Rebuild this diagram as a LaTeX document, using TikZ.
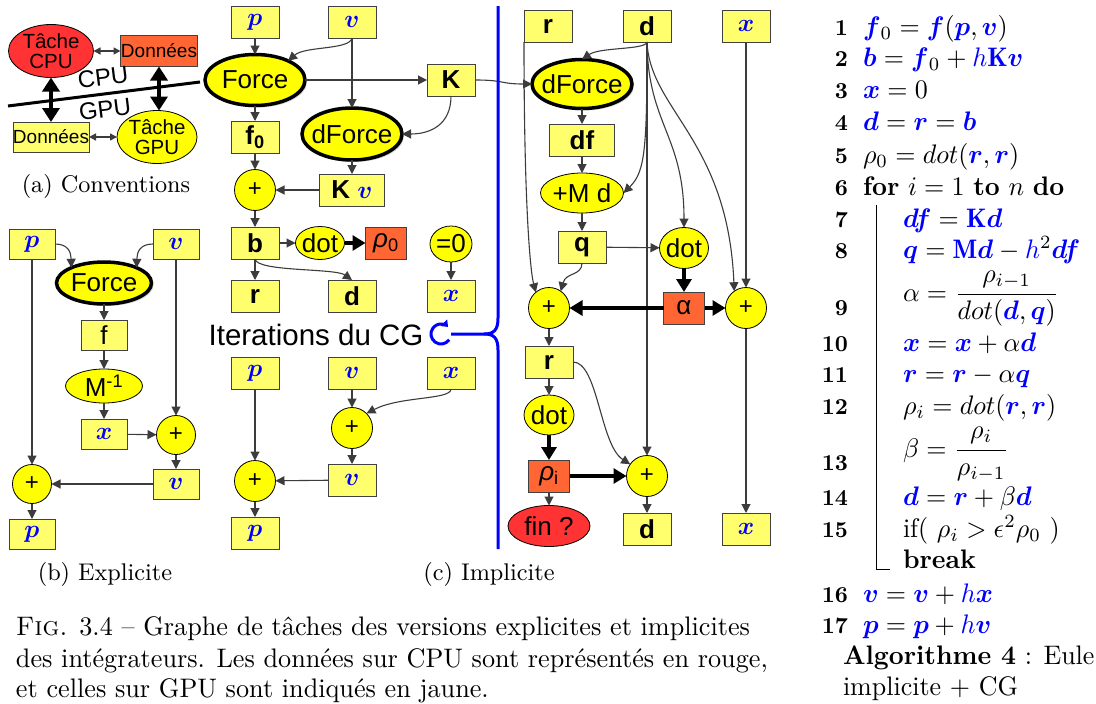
\documentclass[tikz,border=0pt]{standalone}
\usepackage{fix-cm}
\usepackage{graphicx}
\usepackage{amsmath,bm}
\usepackage{fontspec}
\usetikzlibrary{shapes.geometric,arrows.meta,shadows}
\newfontfamily\ars{Liberation Sans}
\definecolor{byel}{RGB}{255,255,110}
\definecolor{cyel}{RGB}{255,255,0}
\definecolor{orng}{RGB}{255,102,51}
\definecolor{redc}{RGB}{255,51,51}
\definecolor{lin}{RGB}{60,60,60}
\newcommand{\vb}[1]{{\color{blue}\bm{#1}}}
\newcommand{\ak}[1]{\scalebox{2.6}[2.68]{\fontsize{10}{12}\selectfont #1}}
\newcommand{\an}[1]{\scalebox{2.6}[2.68]{\fontsize{8.5}{10}\selectfont\bfseries #1}}
\newcommand{\ck}[1]{\scalebox{2.62}[2.68]{\fontsize{10}{12}\selectfont #1}}
\newcommand{\sk}[1]{\scalebox{2.62}[2.68]{\fontsize{9}{11}\selectfont #1}}
\begin{document}
\begin{tikzpicture}[x=1pt,y=1pt,
  every node/.style={inner sep=0pt, outer sep=0pt},
  box/.style={draw=black!75, line width=0.8pt, fill=byel, minimum width=48pt, minimum height=32pt, font=\ars\bfseries\fontsize{26}{26}\selectfont},
  sbox/.style={box, minimum width=46pt, minimum height=30pt},
  mf/.style={font=\fontsize{25}{25}\selectfont},
  obox/.style={box, fill=orng, minimum width=41pt, font=\ars\fontsize{26}{26}\selectfont},
  pl/.style={circle, draw=black, line width=0.8pt, fill=cyel, minimum size=41pt, font=\ars\fontsize{24}{24}\selectfont},
  el/.style={ellipse, draw=black, line width=0.8pt, fill=cyel},
  fel/.style={el, line width=3.5pt, drop shadow={shadow xshift=2pt, shadow yshift=-2pt, fill=black!35}},
  lab/.style={font=\ars\fontsize{26}{26}\selectfont},
  ar/.style={draw=lin, line width=1.1pt, -{Triangle[length=9pt,width=9pt]}},
  tar/.style={draw=black, line width=3.2pt, -{Triangle[length=13pt,width=15pt]}},
  dar/.style={draw=lin, line width=1.5pt, {Triangle[length=7pt,width=7pt]}-{Triangle[length=7pt,width=7pt]}},
  bdar/.style={draw=black, line width=4pt, {Triangle[length=14pt,width=17pt]}-{Triangle[length=14pt,width=17pt]}},
  alg/.style={anchor=base west},
  num/.style={anchor=base east},
  capt/.style={anchor=base west},
]
\fill[white] (0,0) rectangle (1096,-704);
\useasboundingbox (0,0) rectangle (1096,-704);

% ---------- (a) Conventions
\node[ellipse, draw=black, line width=0.8pt, fill=redc, minimum width=85pt, minimum height=53pt,
  label={[font=\ars\fontsize{20.5}{20}\selectfont, align=center]center:Tâche\\CPU}] (tcpu) at (51,-51) {};
\node[draw=black!75, line width=0.8pt, fill=orng, minimum width=77pt, minimum height=31pt, font=\ars\fontsize{19}{19}\selectfont] (dcpu) at (159,-51) {Données};
\node[draw=black!75, line width=0.8pt, fill=byel, minimum width=76pt, minimum height=30pt, font=\ars\fontsize{19}{19}\selectfont] (dgpu) at (51,-137) {Données};
\node[el, minimum width=80pt, minimum height=53pt,
  label={[font=\ars\fontsize{20.5}{20}\selectfont, align=center]center:Tâche\\GPU}] (tgpu) at (157,-137) {};
\coordinate (sepa) at (8,-106);
\coordinate (sepb) at (200,-82);
\draw[line width=3pt] (sepa) -- (sepb);
\node[rotate=7, font=\ars\fontsize{24}{24}\selectfont] (lcpu) at (103,-77) {CPU};
\node[rotate=7, font=\ars\fontsize{24}{24}\selectfont] (lgpu) at (105,-109) {GPU};
\draw[bdar] (tcpu.south) -- (dgpu.north);
\draw[bdar] (dcpu.south) -- (dcpu.south |- tgpu.north);
\draw[dar] (tcpu.east) -- (dcpu.west);
\draw[dar] (dgpu.east) -- (tgpu.west);
\node (capa) at (106,-186) {\sk{(a) Conventions}};

% ---------- (b) Explicite
\node[sbox, mf] (bp1) at (32,-244) {$\vb{p}$};
\node[sbox, mf] (bv1) at (176,-244) {$\vb{v}$};
\node[fel, minimum width=95pt, minimum height=42pt, label={[lab]center:Force}] (bforce) at (104,-283) {};
\node[sbox, font=\ars\fontsize{26}{26}\selectfont] (bf) at (104,-335) {f};
\node[el, minimum width=77pt, minimum height=34pt, label={[lab]center:M\textsuperscript{-1}}] (bm) at (104,-386) {};
\node[sbox, mf] (bx) at (104,-434) {$\vb{x}$};
\node[pl, minimum size=39pt] (bplus1) at (176,-435) {+};
\node[sbox, mf] (bv2) at (176,-484) {$\vb{v}$};
\node[pl, minimum size=39pt] (bplus2) at (32,-484) {+};
\node[sbox, mf] (bp2) at (32,-534) {$\vb{p}$};
\node (capb) at (105,-574) {\sk{(b) Explicite}};
\draw[ar] (bp1.east) .. controls (68,-244) and (71,-252) .. (bforce.155);
\draw[ar] (bv1.west) .. controls (140,-244) and (137,-252) .. (bforce.25);
\draw[ar] (bforce) -- (bf);
\draw[ar] (bf) -- (bm);
\draw[ar] (bm) -- (bx);
\draw[ar] (bx) -- (bplus1);
\draw[ar] (bv1) -- (bplus1);
\draw[ar] (bplus1) -- (bv2);
\draw[ar] (bv2) -- (bplus2);
\draw[ar] (bp1) -- (bplus2);
\draw[ar] (bplus2) -- (bp2);

% ---------- (c) Implicite, left part
\node[box, mf] (cp1) at (255,-22) {$\vb{p}$};
\node[box, mf] (cv1) at (352,-22) {$\vb{v}$};
\node[fel, minimum width=100pt, minimum height=51pt, label={[lab]center:Force}] (cforce) at (255,-80) {};
\node[box] (ck) at (451,-80) {K};
\node[fel, minimum width=100pt, minimum height=52pt, label={[lab]center:dForce}] (cdforce) at (352,-134) {};
\node[box] (cf0) at (255,-137) {f\textsubscript{0}};
\node[pl] (cplus1) at (255,-190) {+};
\node[box, minimum width=65pt] (ckv) at (352,-190) {K {\fontsize{25}{25}\selectfont$\vb{v}$}};
\node[box] (cb) at (255,-243) {b};
\node[el, minimum width=49pt, minimum height=33pt, label={[lab]center:dot}] (cdot) at (320,-243) {};
\node[obox] (crho) at (386,-243) {\textit{ρ}\textsubscript{0}};
\node[el, minimum width=42pt, minimum height=36pt, label={[lab]center:=0}] (czero) at (451,-244) {};
\node[box] (cr) at (255,-296) {r};
\node[box] (cd) at (352,-296) {d};
\node[box, mf] (cx) at (451,-296) {$\vb{x}$};
\node[font=\ars\fontsize{29.5}{30}\selectfont] (iter) at (316,-335) {Iterations du CG};
\coordinate (cg) at (441,-334);
\draw[blue, line width=3pt, -{Triangle[length=6pt,width=9pt]}] ([shift={(-35:10)}]cg) arc[start angle=-35, end angle=-315, radius=10];
\node[box, mf] (cp2) at (255,-373) {$\vb{p}$};
\node[box, mf] (cv2) at (352,-373) {$\vb{v}$};
\node[box, mf] (cx2) at (451,-373) {$\vb{x}$};
\node[pl] (cplus2) at (352,-428) {+};
\node[pl] (cplus3) at (255,-481) {+};
\node[box, mf] (cv3) at (352,-480) {$\vb{v}$};
\node[box, mf] (cp3) at (255,-533) {$\vb{p}$};
\node (capc) at (489,-574) {\sk{(c) Implicite}};

\draw[ar] (cp1) -- (cforce);
\draw[ar] (cv1.south) .. controls (350,-50) and (305,-46) .. (cforce.30);
\draw[ar] (cv1) -- (cdforce);
\draw[ar] (cforce) -- (ck);
\draw[ar] (ck.south) .. controls (451,-125) and (430,-134) .. (cdforce.east);
\draw[ar] (cforce) -- (cf0);
\draw[ar] (cf0) -- (cplus1);
\draw[ar] (cdforce) -- (ckv);
\draw[ar] (ckv) -- (cplus1);
\draw[ar] (cplus1) -- (cb);
\draw[ar] (cb) -- (cdot);
\draw[tar] (cdot) -- (crho);
\draw[ar] (cb) -- (cr);
\draw[ar] (cb.south) .. controls (257,-272) and (335,-268) .. (cd.north);
\draw[ar] (czero) -- (cx);
\draw[ar] (cp2) -- (cplus3);
\draw[ar] (cv2) -- (cplus2);
\draw[ar] (cx2.south) .. controls (451,-400) and (400,-396) .. (cplus2.45);
\draw[ar] (cplus2) -- (cv3);
\draw[ar] (cv3) -- (cplus3);
\draw[ar] (cplus3) -- (cp3);

% ---------- (c) Implicite, right part
\node[box] (rr1) at (548,-26) {r};
\node[box] (rd1) at (647,-26) {d};
\node[box, mf] (rx1) at (746,-26) {$\vb{x}$};
\node[fel, minimum width=100pt, minimum height=49pt, label={[lab]center:dForce}] (rdforce) at (582,-84) {};
\node[box, minimum width=65pt] (rdf) at (582,-140) {df};
\node[el, minimum width=83pt, minimum height=40pt, label={[lab]center:+M d}] (rmd) at (582,-193) {};
\node[box] (rq) at (582,-247) {q};
\node[el, minimum width=49pt, minimum height=41pt, label={[lab]center:dot}] (rdot1) at (684,-248) {};
\node[obox] (ralpha) at (684,-308) {α};
\node[pl] (rplus1) at (549,-308) {+};
\node[pl] (rplus2) at (746,-308) {+};
\node[box] (rr2) at (549,-362) {r};
\node[el, minimum width=50pt, minimum height=40pt, label={[lab]center:dot}] (rdot2) at (549,-415) {};
\node[obox] (rrho) at (549,-476) {\textit{ρ}\textsubscript{i}};
\node[pl] (rplus3) at (647,-476) {+};
\node[ellipse, draw=black, line width=0.8pt, fill=redc, minimum width=82pt, minimum height=41pt, label={[lab]center:fin ?}] (rfin) at (549,-526) {};
\node[box] (rd2) at (647,-529) {d};
\node[box, mf] (rx2) at (746,-529) {$\vb{x}$};

\draw[ar] (ck.east) .. controls (505,-80) and (500,-84) .. (rdforce.west);
\draw[ar] (rd1.south) .. controls (646,-50) and (600,-47) .. (rdforce.north);
\draw[ar] (rdforce) -- (rdf);
\draw[ar] (rdf) -- (rmd);
\draw[ar] (rmd) -- (rq);
\draw[ar] (rd1.south) .. controls (647,-150) and (645,-172) .. (rmd.east);
\draw[ar] (rd1.south) .. controls (648,-125) and (684,-135) .. (rdot1.north);
\draw[ar] (rd1.south) .. controls (650,-110) and (728,-140) .. (rplus2.125);
\draw[ar] (rd1) -- (rplus3);
\draw[ar] (rr1.south west) .. controls (524,-200) and (530,-270) .. (rplus1.130);
\draw[ar] (rq.south) .. controls (582,-276) and (566,-272) .. (rplus1.55);
\draw[ar] (rq) -- (rdot1);
\draw[tar] (rdot1) -- (ralpha);
\draw[tar] (ralpha) -- (rplus1);
\draw[tar] (ralpha) -- (rplus2);
\draw[ar] (rx1) -- (rplus2);
\draw[ar] (rplus1) -- (rr2);
\draw[ar] (rr2) -- (rdot2);
\draw[tar] (rdot2) -- (rrho);
\draw[tar] (rrho) -- (rplus3);
\draw[ar] (rr2.east) .. controls (598,-362) and (600,-445) .. (rplus3.145);
\draw[ar] (rplus3) -- (rd2);
\draw[ar] (rplus2) -- (rx2);
\draw[ar] (rrho) -- (rfin);

% ---------- blue separator with brace
\coordinate (bt) at (498,-6);
\coordinate (bb) at (498,-549);
\coordinate (btip) at (484,-334);
\draw[blue, line width=3pt] (bt) -- (498,-318) .. controls (498,-330) and (494,-334) .. (btip) -- ([xshift=10pt]cg);
\draw[blue, line width=3pt] (btip) .. controls (494,-334) and (498,-338) .. (498,-350) -- (bb);

% ---------- algorithm
\node[num] (n1) at (848,-35) {\an{1}};
\node[alg] (l1) at (863,-35) {\ak{$\vb{f}_0 = \vb{f}(\vb{p},\vb{v})$}};
\node[num] (n2) at (848,-66) {\an{2}};
\node[alg] (l2) at (863,-66) {\ak{$\vb{b} = \vb{f}_0 + {\color{blue}h\mathbf{K}\bm{v}}$}};
\node[num] (n3) at (848,-98) {\an{3}};
\node[alg] (l3) at (863,-98) {\ak{$\vb{x} = 0$}};
\node[num] (n4) at (848,-130) {\an{4}};
\node[alg] (l4) at (863,-130) {\ak{$\vb{d} = \vb{r} = \vb{b}$}};
\node[num] (n5) at (848,-163) {\an{5}};
\node[alg] (l5) at (863,-163) {\ak{$\rho_0 = dot(\vb{r},\vb{r})$}};
\node[num] (n6) at (848,-195) {\an{6}};
\node[alg] (l6) at (863,-195) {\ak{\textbf{for} $i = 1$ \textbf{to} $n$ \textbf{do}}};
\node[num] (n7) at (848,-227) {\an{7}};
\node[alg] (l7) at (903,-227) {\ak{$\vb{df} = {\color{blue}\mathbf{K}\bm{d}}$}};
\node[num] (n8) at (848,-258) {\an{8}};
\node[alg] (l8) at (903,-258) {\ak{$\vb{q} = {\color{blue}\mathbf{M}\bm{d}} - {\color{blue}h}^2\vb{df}$}};
\node[num] (n9) at (848,-315) {\an{9}};
\node[alg] (l9) at (903,-301) {\ak{$\alpha = \dfrac{\rho_{i-1}}{dot(\vb{d},\vb{q})}$}};
\node[num] (n10) at (848,-351) {\an{10}};
\node[alg] (l10) at (903,-351) {\ak{$\vb{x} = \vb{x} + \alpha\vb{d}$}};
\node[num] (n11) at (848,-382) {\an{11}};
\node[alg] (l11) at (903,-382) {\ak{$\vb{r} = \vb{r} - \alpha\vb{q}$}};
\node[num] (n12) at (848,-414) {\an{12}};
\node[alg] (l12) at (903,-414) {\ak{$\rho_i = dot(\vb{r},\vb{r})$}};
\node[num] (n13) at (848,-470) {\an{13}};
\node[alg] (l13) at (903,-457) {\ak{$\beta = \dfrac{\rho_i}{\rho_{i-1}}$}};
\node[num] (n14) at (848,-505) {\an{14}};
\node[alg] (l14) at (903,-505) {\ak{$\vb{d} = \vb{r} + \beta\vb{d}$}};
\node[num] (n15) at (848,-537) {\an{15}};
\node[alg] (l15) at (903,-537) {\ak{if( $\rho_i > \epsilon^2\rho_0$ )}};
\node[alg] (lbrk) at (903,-568) {\ak{\textbf{break}}};
\coordinate (vbt) at (876,-205);
\coordinate (vbb) at (876,-569);
\draw[line width=1pt] (vbt) -- (vbb) -- ++(14,0);
\node[num] (n16) at (848,-602) {\an{16}};
\node[alg] (l16) at (863,-602) {\ak{$\vb{v} = \vb{v} + {\color{blue}h}\vb{x}$}};
\node[num] (n17) at (848,-633) {\an{17}};
\node[alg] (l17) at (863,-633) {\ak{$\vb{p} = \vb{p} + {\color{blue}h}\vb{v}$}};
\node[alg] (lalg) at (843,-664) {\ak{\textbf{Algorithme 4} : Eule}};
\node[alg] (limp) at (843,-695) {\ak{implicite + CG}};

% ---------- caption
\node[capt] (cap1) at (16,-635) {\ck{\textsc{Fig.} 3.4 -- Graphe de tâches des versions explicites et implicites}};
\node[capt] (cap2) at (16,-667) {\ck{des intégrateurs. Les données sur CPU sont représentés en rouge,}};
\node[capt] (cap3) at (16,-697) {\ck{et celles sur GPU sont indiqués en jaune.}};
\end{tikzpicture}
\end{document}
